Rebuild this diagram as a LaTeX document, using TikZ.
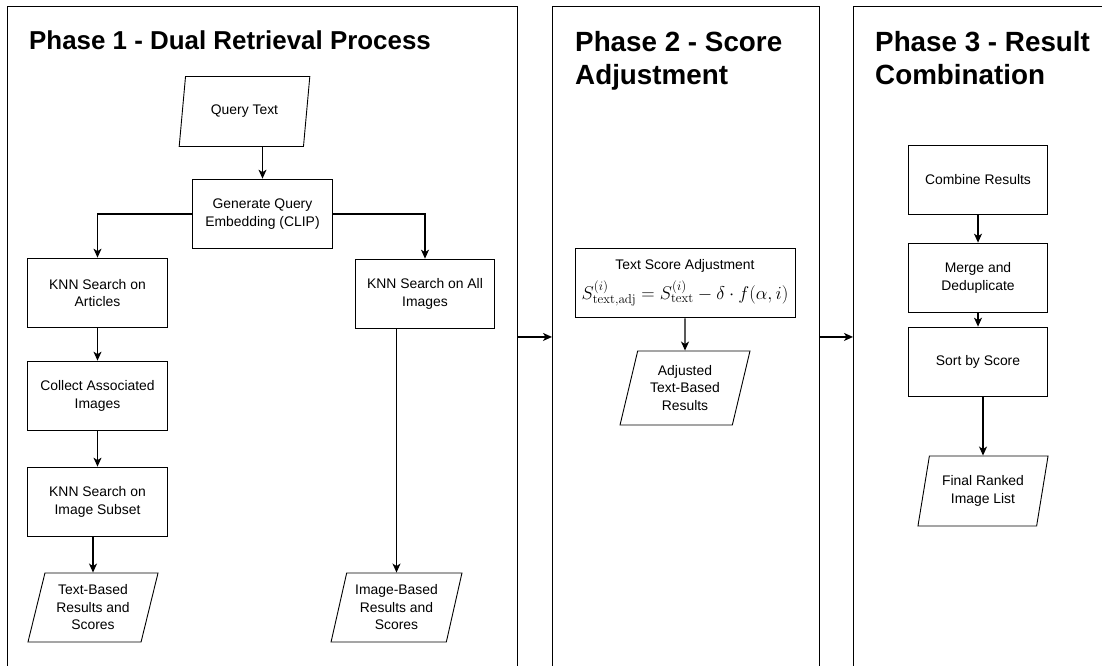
\RequirePackage{fix-cm}
\documentclass[tikz,border=0pt]{standalone}
\usepackage[no-math]{fontspec}
\setmainfont{Liberation Sans}
\usetikzlibrary{shapes.geometric,arrows.meta,calc}

\begin{document}
\begin{tikzpicture}[x=1pt,y=-1pt,
  font=\fontsize{13.9}{17.5}\selectfont,
  panel/.style={draw=black, line width=0.9pt, anchor=north west, inner sep=0pt, minimum height=662pt},
  phasetitle/.style={anchor=north west, font=\fontsize{27.8}{33}\selectfont\bfseries, align=left, inner sep=0pt},
  box/.style={draw, line width=0.9pt, minimum width=139.5pt, minimum height=69.8pt, align=center, inner sep=2pt},
  para/.style={draw, line width=0.9pt, trapezium, trapezium left angle=74, trapezium right angle=106,
    trapezium stretches=true, minimum width=131pt, minimum height=70pt, align=center, inner sep=0pt},
  arr/.style={line width=1.2pt, -{Stealth[length=9pt,width=8pt,inset=2.5pt]}},
]
\clip (0,0) rectangle (1102,665);
\useasboundingbox (0,0) rectangle (1102,665);

% swimlane panels
\node[panel, minimum width=510pt] (p1) at (7,5.5) {};
\node[panel, minimum width=267pt] (p2) at (552,5.5) {};
\node[panel, minimum width=260pt] (p3) at (853,5.5) {};

\node[phasetitle, font=\fontsize{25.9}{31}\selectfont\bfseries] (t1) at (29,31) {Phase 1 - Dual Retrieval Process};
\node[phasetitle] (t2) at (575,31) {Phase 2 - Score\\Adjustment};
\node[phasetitle] (t3) at (875,31) {Phase 3 - Result\\Combination};

% phase 1: dual retrieval
\node[para] (q) at (244.5,111.5) {Query Text};
\node[box] (gen) at (262.5,214) {Generate Query\\Embedding (CLIP)};
\node[box] (art) at (97.5,293) {KNN Search on\\Articles};
\node[box] (all) at (425,294) {KNN Search on All\\Images};
\node[box] (col) at (97.5,396) {Collect Associated\\Images};
\node[box] (sub) at (97.5,502) {KNN Search on\\Image Subset};
\node[para, minimum height=69pt] (tb) at (93,607.5) {Text-Based\\Results and\\Scores};
\node[para, minimum height=69pt] (ib) at (396.5,607.5) {Image-Based\\Results and\\Scores};

\draw[arr] (gen.north |- q.south) -- (gen.north);
\draw[arr] (gen.west) -| (art.north);
\draw[arr] (gen.east) -| (all.north);
\draw[arr] (art.south) -- (col.north);
\draw[arr] (col.south) -- (sub.north);
\draw[arr] (tb.north |- sub.south) -- (tb.north);
\draw[arr] (ib.north |- all.south) -- (ib.north);

% phase 2: score adjustment
\node[box, minimum width=220pt, inner sep=0pt] (tsa) at (685,283)
  {Text Score Adjustment\\[7pt]
   {\fontsize{18.5}{21}\selectfont$S^{(i)}_{\mathrm{text,adj}} = S^{(i)}_{\mathrm{text}} - \delta\cdot f(\alpha,i)$}};
\node[para, minimum height=74pt] (adj) at (685,388) {Adjusted\\Text-Based\\Results};
\draw[arr] (tsa.south) -- (adj.north);

% phase 3: result combination
\node[box] (comb) at (978,180) {Combine Results};
\node[box] (merge) at (978,278) {Merge and\\Deduplicate};
\node[box] (sort) at (978,362) {Sort by Score};
\node[para] (fin) at (983,491) {Final Ranked\\Image List};
\draw[arr] (comb.south) -- (merge.north);
\draw[arr] (merge.south) -- (sort.north);
\draw[arr] (fin.north |- sort.south) -- (fin.north);

% hand-over between phases
\draw[arr] (p1.east) -- (p2.west);
\draw[arr] (p2.east) -- (p3.west);
\end{tikzpicture}
\end{document}
